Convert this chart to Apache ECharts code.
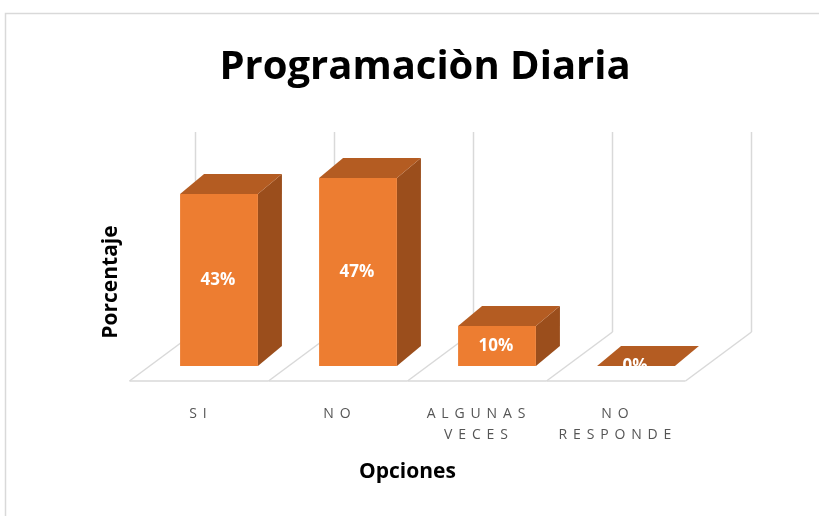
<!DOCTYPE html>
<html>
<head>
    <meta charset="utf-8">
    <title>Programaciòn Diaria</title>
    <script src="https://cdn.jsdelivr.net/npm/echarts@6/dist/echarts.min.js"></script>
    <style>
        html, body { margin: 0; padding: 0; background: #fff; }
    </style>
</head>
<body>
<div id="chart-container" style="width: 819px; height: 516px;"></div>
<script>
    // datos
    var categorias = ['SI', 'NO', 'ALGUNAS VECES', 'NO RESPONDE'];
    var porcentajes = [43, 47, 10, 0];
    var indices = [0, 1, 2, 3];

    // efecto 3D (oblicuo)
    var barDx = 24, barDy = -20;        // profundidad de la barra
    var floorFront = [-20, 15];        // borde delantero del piso
    var floorBack = [46, -34];         // pared del fondo
    var gridColor = '#d9d9d9';

    function espaciado(txt) {
        // separa las letras como en el original
        return txt.split(' ').map(function (w) {
            return w.split('').join('\u2005\u2006');
        }).join('\n');
    }

    var chart = echarts.init(document.getElementById('chart-container'));

    var option = {
        backgroundColor: '#fff',
        animation: false,
        title: {
            text: 'Programaciòn Diaria',
            left: 420,
            top: 43,
            textAlign: 'center',
            textStyle: {
                fontFamily: 'Open Sans',
                fontWeight: 'bold',
                fontSize: 40,
                color: '#000'
            }
        },
        graphic: [{
            type: 'rect',
            shape: { x: 5.5, y: 13.5, width: 900, height: 600 },
            style: { fill: 'none', stroke: gridColor, lineWidth: 1.5 },
            silent: true
        }],
        grid: {
            left: 149.5,
            right: 113.5,
            top: 166,
            bottom: 150
        },
        xAxis: {
            type: 'category',
            data: categorias,
            axisLine: { show: false },
            axisTick: { show: false },
            axisLabel: {
                interval: 0,
                margin: 38,
                color: '#555555',
                fontFamily: 'Open Sans',
                fontSize: 14,
                lineHeight: 21,
                padding: [0, 42, 0, 0],
                formatter: espaciado
            },
            name: 'Opciones',
            nameLocation: 'middle',
            nameGap: 96,
            nameTextStyle: {
                fontFamily: 'Open Sans',
                fontWeight: 'bold',
                fontSize: 21,
                color: '#000',
                padding: [0, 40, 0, 0]
            }
        },
        yAxis: {
            type: 'value',
            min: 0,
            max: 50,
            axisLine: { show: false },
            axisTick: { show: false },
            axisLabel: { show: false },
            splitLine: { show: false },
            name: 'Porcentaje',
            nameLocation: 'middle',
            nameRotate: 90,
            nameGap: 28,
            nameTextStyle: {
                fontFamily: 'Open Sans',
                fontWeight: 'bold',
                fontSize: 21,
                color: '#000',
                padding: [0, 32, 0, 0]
            }
        },
        series: [
            {
                // piso y pared del fondo
                type: 'custom',
                silent: true,
                data: indices,
                z: 1,
                renderItem: function (params, api) {
                    var i = api.value(0);
                    var band = api.size([1, 0])[0];
                    var p0 = api.coord([i, 0]);
                    var pTop = api.coord([i, 50]);
                    var lines = [];
                    var bounds = [p0[0] - band / 2];
                    if (i === categorias.length - 1) bounds.push(p0[0] + band / 2);
                    bounds.forEach(function (xb) {
                        lines.push({
                            type: 'line',
                            shape: { x1: xb + floorBack[0], y1: pTop[1] + floorBack[1], x2: xb + floorBack[0], y2: p0[1] + floorBack[1] },
                            style: { stroke: gridColor, lineWidth: 1.5 }
                        });
                        lines.push({
                            type: 'line',
                            shape: { x1: xb + floorBack[0], y1: p0[1] + floorBack[1], x2: xb + floorFront[0], y2: p0[1] + floorFront[1] },
                            style: { stroke: gridColor, lineWidth: 1.5 }
                        });
                    });
                    lines.push({
                        type: 'line',
                        shape: { x1: p0[0] - band / 2 + floorFront[0], y1: p0[1] + floorFront[1], x2: p0[0] + band / 2 + floorFront[0], y2: p0[1] + floorFront[1] },
                        style: { stroke: gridColor, lineWidth: 1.5 }
                    });
                    return { type: 'group', children: lines };
                }
            },
            {
                // barras 3D
                type: 'custom',
                data: porcentajes.map(function (v, i) { return [i, v]; }),
                z: 2,
                renderItem: function (params, api) {
                    var i = api.value(0);
                    var v = api.value(1);
                    var band = api.size([1, 0])[0];
                    var w = band * 0.56;
                    var p0 = api.coord([i, 0]);
                    var p1 = api.coord([i, v]);
                    var x1 = p0[0] - w / 2, x2 = p0[0] + w / 2;
                    var y0 = p0[1], y1 = p1[1];
                    return {
                        type: 'group',
                        children: [
                            {
                                type: 'polygon',
                                shape: { points: [[x2, y1], [x2 + barDx, y1 + barDy], [x2 + barDx, y0 + barDy], [x2, y0]] },
                                style: { fill: '#9b4e1c' }
                            },
                            {
                                type: 'polygon',
                                shape: { points: [[x1, y1], [x1 + barDx, y1 + barDy], [x2 + barDx, y1 + barDy], [x2, y1]] },
                                style: { fill: '#b45c22' }
                            },
                            {
                                type: 'rect',
                                shape: { x: x1, y: y1, width: w, height: y0 - y1 },
                                style: { fill: '#ed7d31' }
                            },
                            {
                                type: 'text',
                                x: p0[0] - 1,
                                y: (y0 + y1) / 2,
                                style: {
                                    text: v + '%',
                                    fill: '#fff',
                                    font: 'bold 17px "Open Sans"',
                                    align: 'center',
                                    verticalAlign: 'middle'
                                }
                            },
                            {
                                // piso delante de la barra
                                type: 'rect',
                                shape: { x: x1 - 2, y: y0 + 0.5, width: w + 4, height: floorFront[1] - 2 },
                                style: { fill: '#fff' }
                            }
                        ]
                    };
                }
            }
        ]
    };

    chart.setOption(option);
</script>
</body>
</html>
